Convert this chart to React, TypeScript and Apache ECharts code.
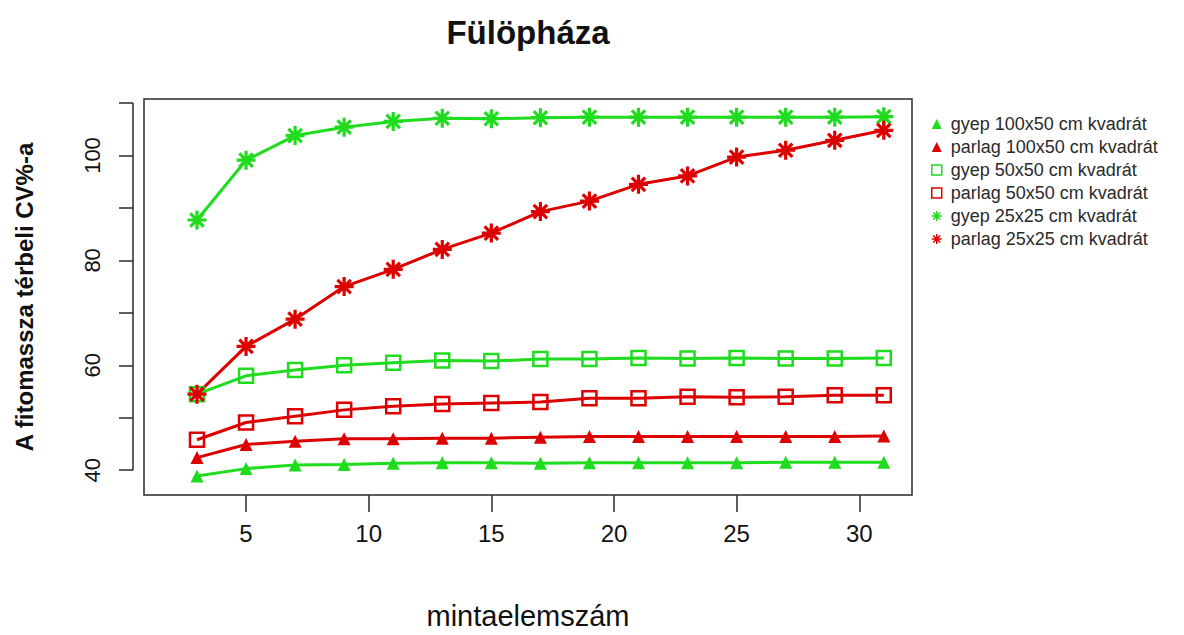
import React, { useEffect, useRef } from "react";
import * as echarts from "echarts";

const sampleSizes = [3, 5, 7, 9, 11, 13, 15, 17, 19, 21, 23, 25, 27, 29, 31];

const gyep100x50 = [38.9, 40.3, 41.0, 41.1, 41.3, 41.4, 41.4, 41.3, 41.4, 41.4, 41.4, 41.4, 41.5, 41.5, 41.5];
const parlag100x50 = [42.4, 44.9, 45.5, 46.0, 46.0, 46.1, 46.1, 46.3, 46.4, 46.4, 46.4, 46.4, 46.4, 46.4, 46.5];
const gyep50x50 = [54.5, 58.0, 59.1, 60.0, 60.5, 60.9, 60.8, 61.2, 61.2, 61.4, 61.3, 61.4, 61.3, 61.3, 61.4];
const parlag50x50 = [45.8, 49.1, 50.3, 51.5, 52.2, 52.6, 52.8, 53.0, 53.7, 53.7, 54.0, 53.9, 54.0, 54.3, 54.3];
const gyep25x25 = [87.7, 99.1, 103.8, 105.4, 106.5, 107.1, 107.0, 107.2, 107.3, 107.3, 107.3, 107.3, 107.3, 107.3, 107.4];
const parlag25x25 = [54.5, 63.6, 68.8, 75.0, 78.3, 82.1, 85.2, 89.3, 91.3, 94.5, 96.1, 99.7, 101.0, 102.9, 104.8];

const seriesNames = [
  "gyep 100x50 cm kvadrát",
  "parlag 100x50 cm kvadrát",
  "gyep 50x50 cm kvadrát",
  "parlag 50x50 cm kvadrát",
  "gyep 25x25 cm kvadrát",
  "parlag 25x25 cm kvadrát",
];

const xTicks = [5, 10, 15, 20, 25, 30];
const yTicks = [40, 50, 60, 70, 80, 90, 100, 110];
const yLabels = [40, 60, 80, 100];

const X_MIN = 0.84;
const X_MAX = 32.15;
const Y_MIN = 35.27;
const Y_MAX = 110.77;

const GREEN = "#1fdc1f";
const RED = "#dd0000";
const FONT = "Liberation Sans, Arial, sans-serif";
const ASTERISK = "path://M10,0L10,20M0,10L20,10M2.93,2.93L17.07,17.07M2.93,17.07L17.07,2.93";

function pairs(values: number[]) {
  return sampleSizes.map((x, i) => [x, values[i]]);
}

export default function App() {
  const ref = useRef<HTMLDivElement>(null);
  useEffect(() => {
    if (!ref.current) return;
    const chart = echarts.init(ref.current, null, { renderer: "svg" });

    const mk = (name: string, values: number[], color: string, kind: string) => {
      const base: any = {
        name,
        type: "line",
        data: pairs(values),
        lineStyle: { color, width: 3 },
        showSymbol: true,
      };
      if (kind === "tri") {
        base.symbol = "triangle";
        base.symbolSize = 13;
        base.itemStyle = { color, borderWidth: 0 };
      } else if (kind === "sq") {
        base.symbol = "rect";
        base.symbolSize = 14;
        base.itemStyle = { color: "rgba(0,0,0,0)", borderColor: color, borderWidth: 2.5 };
      } else {
        base.symbol = ASTERISK;
        base.symbolSize = 19;
        base.itemStyle = { color, borderColor: color, borderWidth: 3.2 };
      }
      return base;
    };

    const option: any = {
      animation: false,
      backgroundColor: "#ffffff",
      textStyle: { fontFamily: FONT },
      grid: {
        left: 144,
        right: 272,
        top: 99,
        bottom: 137,
        show: true,
        borderColor: "#2a2a2a",
        borderWidth: 1.5,
        backgroundColor: "transparent",
      },
      graphic: [
        {
          type: "text",
          x: 528,
          y: 32,
          style: {
            text: "Fülöpháza",
            font: `bold 33px ${FONT}`,
            fill: "#111",
            textAlign: "center",
            textVerticalAlign: "middle",
          },
        },
      ],
      legend: {
        orient: "vertical",
        left: 926,
        top: 110,
        itemWidth: 10,
        itemHeight: 10,
        itemGap: 5,
        textStyle: { fontSize: 18, color: "#2a2a2a", fontFamily: FONT, padding: [0, 0, 0, 4] },
        data: [
          { name: seriesNames[0], icon: "triangle" },
          { name: seriesNames[1], icon: "triangle" },
          { name: seriesNames[2], icon: "rect", itemStyle: { borderWidth: 1.5 } },
          { name: seriesNames[3], icon: "rect", itemStyle: { borderWidth: 1.5 } },
          { name: seriesNames[4], icon: ASTERISK, itemStyle: { borderWidth: 1.5 } },
          { name: seriesNames[5], icon: ASTERISK, itemStyle: { borderWidth: 1.5 } },
        ],
      },
      xAxis: {
        type: "value",
        min: X_MIN,
        max: X_MAX,
        name: "mintaelemszám",
        nameLocation: "middle",
        nameGap: 106,
        nameTextStyle: { fontSize: 29, color: "#111", fontFamily: FONT },
        axisLine: { show: false },
        splitLine: { show: false },
        axisTick: {
          show: true,
          customValues: xTicks,
          length: 17,
          lineStyle: { color: "#2a2a2a", width: 1.5 },
        },
        axisLabel: {
          customValues: xTicks,
          fontSize: 24,
          color: "#111",
          margin: 26,
          fontFamily: FONT,
        },
      },
      yAxis: {
        type: "value",
        min: Y_MIN,
        max: Y_MAX,
        offset: 11,
        name: "A fitomassza térbeli CV%-a",
        nameLocation: "middle",
        nameGap: 97,
        nameRotate: 90,
        nameTextStyle: { fontSize: 24, fontWeight: "bold", color: "#111", fontFamily: FONT },
        axisLine: { show: false },
        splitLine: { show: false },
        axisTick: {
          show: true,
          customValues: yTicks,
          length: 14,
          lineStyle: { color: "#2a2a2a", width: 1.5 },
        },
        axisLabel: {
          customValues: yLabels,
          rotate: 90,
          fontSize: 22,
          color: "#111",
          margin: 30,
          fontFamily: FONT,
        },
      },
      series: [
        mk(seriesNames[0], gyep100x50, GREEN, "tri"),
        mk(seriesNames[1], parlag100x50, RED, "tri"),
        mk(seriesNames[2], gyep50x50, GREEN, "sq"),
        mk(seriesNames[3], parlag50x50, RED, "sq"),
        mk(seriesNames[4], gyep25x25, GREEN, "ast"),
        mk(seriesNames[5], parlag25x25, RED, "ast"),
        {
          name: "yAxisLine",
          type: "custom",
          silent: true,
          data: [[X_MIN, yTicks[0]]],
          renderItem: (params: any, api: any) => {
            const p1 = api.coord([X_MIN, yTicks[0]]);
            const p2 = api.coord([X_MIN, yTicks[yTicks.length - 1]]);
            return {
              type: "line",
              shape: { x1: p1[0] - 11, y1: p1[1], x2: p1[0] - 11, y2: p2[1] },
              style: { stroke: "#2a2a2a", lineWidth: 1.5 },
            };
          },
        },
      ],
    };
    chart.setOption(option);
    return () => chart.dispose();
  }, []);
  return (
    <div
      ref={ref}
      style={{ position: "absolute", left: 0, top: 0, width: 1184, height: 635, background: "#fff" }}
    />
  );
}
